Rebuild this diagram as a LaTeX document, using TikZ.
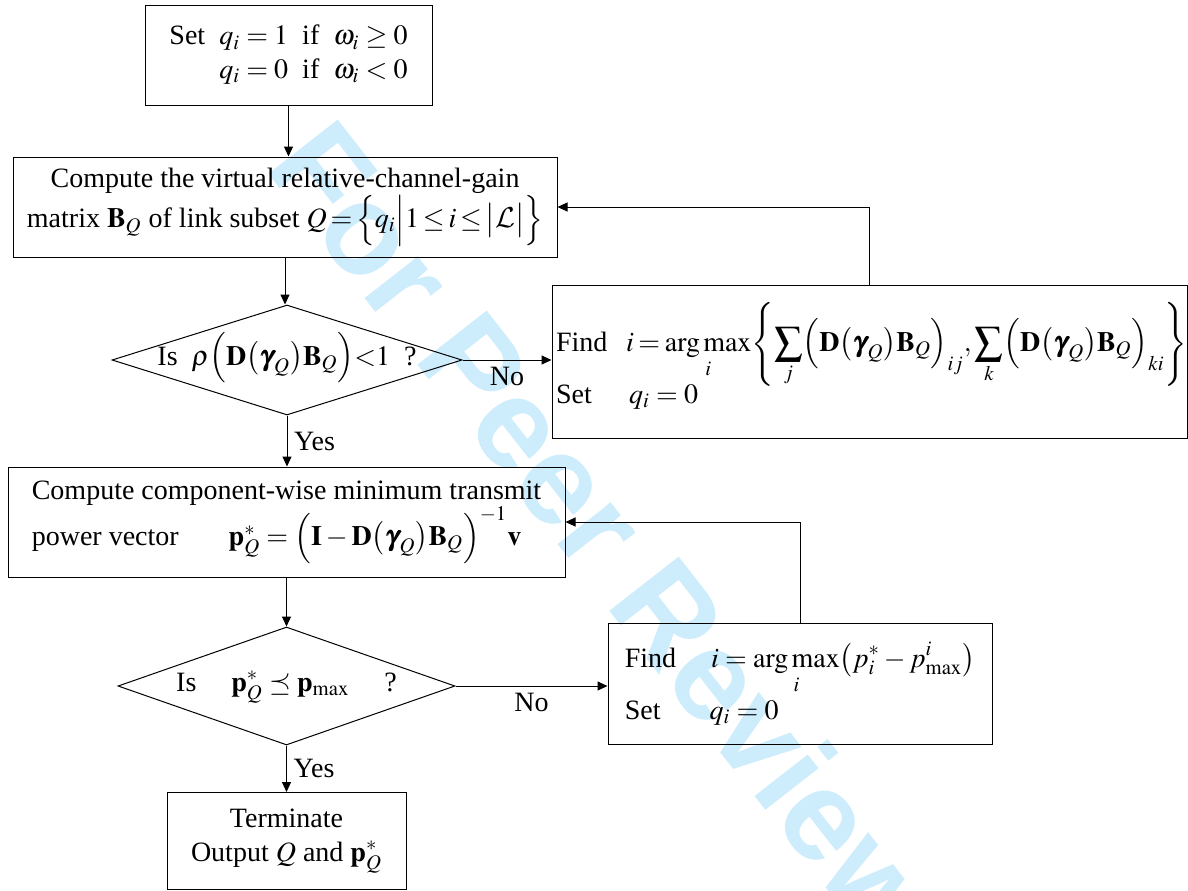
\documentclass[tikz,border=0pt]{standalone}
\usepackage{amsmath}
\usepackage{mathptmx}
\usepackage{bm}
\usepackage{fontspec}
\setmainfont{Liberation Serif}
\newfontfamily\wmfont{Liberation Sans}
\DeclareMathAlphabet{\mathcalcm}{OMS}{cmsy}{m}{n}
\usetikzlibrary{shapes.geometric,arrows.meta}
\definecolor{wmblue}{RGB}{205,236,252}
\tikzset{
  blk/.style={draw, rectangle, inner sep=2pt, line width=0.5pt},
  dec/.style={draw, diamond, inner sep=0pt, shape aspect=3, text height=5pt, text depth=0pt, line width=0.5pt},
  flow/.style={-{Triangle[length=5pt,width=4.5pt]}, line width=0.5pt}
}
\newcommand{\DgB}{\mathbf{D}\bigl(\bm{\gamma}_Q\bigr)\mathbf{B}_Q}
\begin{document}
\begin{tikzpicture}[x=0.5pt,y=-0.5pt,font=\fontsize{14}{16.8}\selectfont]
  \useasboundingbox (0,0) rectangle (1188,890);
  % watermark
  \node [rotate=-52, text=wmblue, font=\wmfont\bfseries\fontsize{64}{64}\selectfont] (wm) at (606,532) {For Peer Review};
  % main column
  \node [blk, minimum width=143.5pt, minimum height=50pt] (init) at (288.5,55)
    {\begin{tabular}{@{}r@{\ \ }l@{\ \ }l@{\ \ }l@{}}Set & $q_i=1$ & if & $\omega_i\ge 0$\\ & $q_i=0$ & if & $\omega_i<0$\end{tabular}};
  \node [blk, minimum width=272pt, minimum height=50pt, align=center] (gain) at (285,207)
    {Compute the virtual relative-channel-gain\\ matrix $\mathbf{B}_Q$ of link subset $\thickmuskip=2.5mu Q=\Bigl\{q_i\Big|1\le i\le\bigl|\mathcalcm{L}\bigr|\Bigr\}$};
  \node [dec, minimum width=175pt, minimum height=55pt] (test1) at (287,360)
    {Is \ $\rho\Bigl(\DgB\Bigr){<}1$ \ ?};
  \node [blk, minimum width=278.5pt, minimum height=55pt, align=left] (power) at (286.5,522)
    {Compute component-wise minimum transmit\\ power vector\hspace{25pt}$\mathbf{p}_Q^*=\Bigl(\mathbf{I}-\DgB\Bigr)^{-1}\mathbf{v}$};
  \node [dec, minimum width=168.5pt, minimum height=59pt] (test2) at (286.5,686)
    {Is \quad $\mathbf{p}_Q^*\preceq\mathbf{p}_{\max}$ \quad ?};
  \node [blk, minimum width=119.5pt, minimum height=48.5pt, align=center] (stop) at (286.5,841)
    {Terminate\\ Output $Q$ and $\mathbf{p}_Q^*$};
  % side boxes
  \node [blk, minimum width=317.5pt, minimum height=76.5pt, text width=313.5pt, inner xsep=2pt, align=left] (drop1) at (869.5,361.5)
    {Find \ $i=\displaystyle\operatorname*{arg\,max}_i\Biggl\{\sum_j\Bigl(\DgB\Bigr)_{ij},\sum_k\Bigl(\DgB\Bigr)_{ki}\Biggr\}$\\[-2pt] Set \quad $q_i=0$\\[-8pt]\mbox{}};
  \node [blk, minimum width=192pt, minimum height=60.5pt, align=left] (drop2) at (800,683.5)
    {Find \quad $i=\displaystyle\operatorname*{arg\,max}_i\bigl(p_i^*-p_{\max}^i\bigr)$\\[2pt] Set \quad\ \ $q_i=0$};
  % connectors
  \draw [flow] (init.south) -- (init.south |- gain.north);
  \draw [flow] (gain.south) -- (gain.south |- test1.north);
  \draw [flow] (test1.south) -- (test1.south |- power.north) node [midway, right] {Yes};
  \draw [flow] (test1.east) -- (test1.east -| drop1.west) node [midway, below] {No};
  \draw [flow] (drop1.north) |- (gain.east);
  \draw [flow] (power.south) -- (power.south |- test2.north);
  \draw [flow] (test2.south) -- (test2.south |- stop.north) node [midway, right] {Yes};
  \draw [flow] (test2.east) -- (test2.east -| drop2.west) node [midway, below] {No};
  \draw [flow] (drop2.north) |- (power.east);
\end{tikzpicture}
\end{document}
